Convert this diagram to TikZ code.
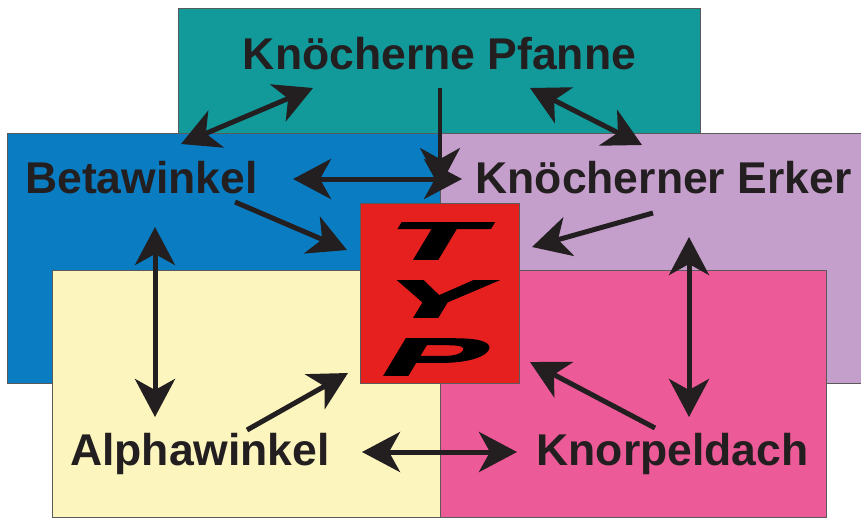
\documentclass[tikz,border=0pt]{standalone}
\usepackage{fontspec}
\setmainfont{Liberation Sans}
\newfontfamily\typfont{Liberation Sans}[BoldFeatures={FakeBold=2}]
\usetikzlibrary{arrows.meta}
\definecolor{cteal}{HTML}{12999A}
\definecolor{cblue}{HTML}{0A7DC2}
\definecolor{clilac}{HTML}{C59FCB}
\definecolor{cyellow}{HTML}{FDF5BE}
\definecolor{cpink}{HTML}{EC5A97}
\definecolor{cred}{HTML}{E5201F}
\definecolor{cink}{HTML}{231F20}
\definecolor{cedge}{HTML}{5A5A5A}
\tikzset{
  panel/.style={draw=cedge, line width=0.9pt},
  label/.style={font=\fontsize{44.5}{50}\selectfont\bfseries, text=cink, inner sep=0pt, anchor=base},
  letter/.style={font=\typfont\fontsize{53}{60}\selectfont\bfseries, text=black, inner sep=0pt, transform shape},
  conn/.style={draw=cink, line width=5pt, -{Stealth[length=38pt, width=40pt, inset=11pt]}},
  dconn/.style={conn, {Stealth[length=38pt, width=40pt, inset=11pt]}-{Stealth[length=38pt, width=40pt, inset=11pt]}}
}
\begin{document}
\begin{tikzpicture}[x=1pt, y=-1pt]
\useasboundingbox (0,0) rectangle (861,519);
% panels
\fill[white] (0,0) rectangle (861,519);
\draw[panel, fill=cteal] (178,8) rectangle (700,134);
\draw[panel, fill=cblue] (7,133) rectangle (440,383);
\draw[panel, fill=clilac] (440,133) rectangle (861,383);
\draw[panel, fill=cyellow] (52,270) rectangle (440,517);
\draw[panel, fill=cpink] (440,270) rectangle (826,517);
% central box
\node[draw=cedge, fill=cred, line width=0.9pt, minimum width=159pt, minimum height=180pt, inner sep=0pt, anchor=north west] (typ) at (360,203) {};
\begin{scope}[shift={(437,241)}, xslant=0.6, xscale=2.9]
  \node[letter] (lt) at (0,0) {T};
\end{scope}
\begin{scope}[shift={(437,299)}, xslant=0.6, xscale=2.9]
  \node[letter] (ly) at (0,0) {Y};
\end{scope}
\begin{scope}[shift={(437,357)}, xslant=0.6, xscale=2.9]
  \node[letter] (lp) at (0,0) {P};
\end{scope}
% labels
\node[label] (pf) at (439.5,69) {Knöcherne Pfanne};
\node[label] (beta) at (141.5,193) {Betawinkel};
\node[label] (erker) at (663.5,193) {Knöcherner Erker};
\node[label] (alpha) at (200,465) {Alphawinkel};
\node[label] (knorpel) at (672.5,465) {Knorpeldach};
% connector end points
\coordinate (pfL) at (313,88);
\coordinate (betaT) at (181,144);
\coordinate (pfR) at (530,88);
\coordinate (erkerT) at (642,145);
\coordinate (pfB) at (440,88);
\coordinate (typT) at (440,186);
\coordinate (betaR) at (293,179);
\coordinate (erkerL) at (462,179);
\coordinate (betaD) at (235,202);
\coordinate (typNW) at (347,250);
\coordinate (erkerD) at (653,213);
\coordinate (typNE) at (532,247);
\coordinate (betaB) at (155,227);
\coordinate (alphaT) at (155,417);
\coordinate (alphaU) at (247,430);
\coordinate (typSW) at (348,373);
\coordinate (alphaR) at (362,452);
\coordinate (knorpelL) at (517,452);
\coordinate (erkerB) at (689,237);
\coordinate (knorpelT) at (689,417);
\coordinate (knorpelU) at (655,428);
\coordinate (typSE) at (530,362);
% connectors
\draw[dconn] (betaT) -- (pfL);
\draw[dconn] (pfR) -- (erkerT);
\draw[conn, line width=3.5pt] (pfB) -- (typT);
\draw[dconn] (betaR) -- (erkerL);
\draw[conn] (betaD) -- (typNW);
\draw[conn] (erkerD) -- (typNE);
\draw[dconn] (betaB) -- (alphaT);
\draw[conn] (alphaU) -- (typSW);
\draw[dconn] (alphaR) -- (knorpelL);
\draw[dconn] (erkerB) -- (knorpelT);
\draw[conn] (knorpelU) -- (typSE);
\end{tikzpicture}
\end{document}
